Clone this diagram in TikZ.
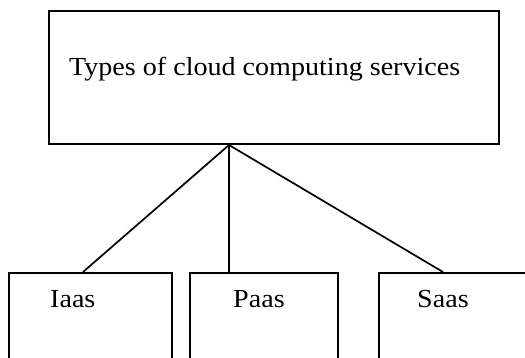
\documentclass[tikz,border=0pt]{standalone}
\usepackage{fontspec}
\setmainfont{Liberation Serif}[FakeStretch=1.08]
\usetikzlibrary{calc}
\begin{document}
\begin{tikzpicture}[x=1pt,y=-1pt,
  box/.style={draw=black, line width=2pt, rectangle, inner sep=0pt, anchor=north west},
  lbl/.style={anchor=base west, inner sep=0pt, font=\fontsize{26}{30}\selectfont},
  conn/.style={draw=black, line width=1.7pt}]
\useasboundingbox (0,0) rectangle (525,358);
\clip (0,0) rectangle (525,358);
\node[box, minimum width=450pt, minimum height=133pt] (top) at (48,10) {};
\node[lbl] (toptext) at (69,76) {Types of cloud computing services};
\node[box, minimum width=163pt, minimum height=120pt] (iaas) at (8,272) {};
\node[box, minimum width=148pt, minimum height=120pt] (paas) at (189,272) {};
\node[box, minimum width=180pt, minimum height=120pt] (saas) at (378,272) {};
\node[lbl] (iaast) at (50,308) {Iaas};
\node[lbl] (paast) at (233,308) {Paas};
\node[lbl] (saast) at (417,308) {Saas};
\coordinate (j) at ($(top.south west)+(181,0)$);
\draw[conn] (j) -- ($(iaas.north west)+(75,0)$);
\draw[conn] (j) -- ($(paas.north west)+(40,0)$);
\draw[conn] (j) -- ($(saas.north west)+(65,0)$);
\end{tikzpicture}
\end{document}
